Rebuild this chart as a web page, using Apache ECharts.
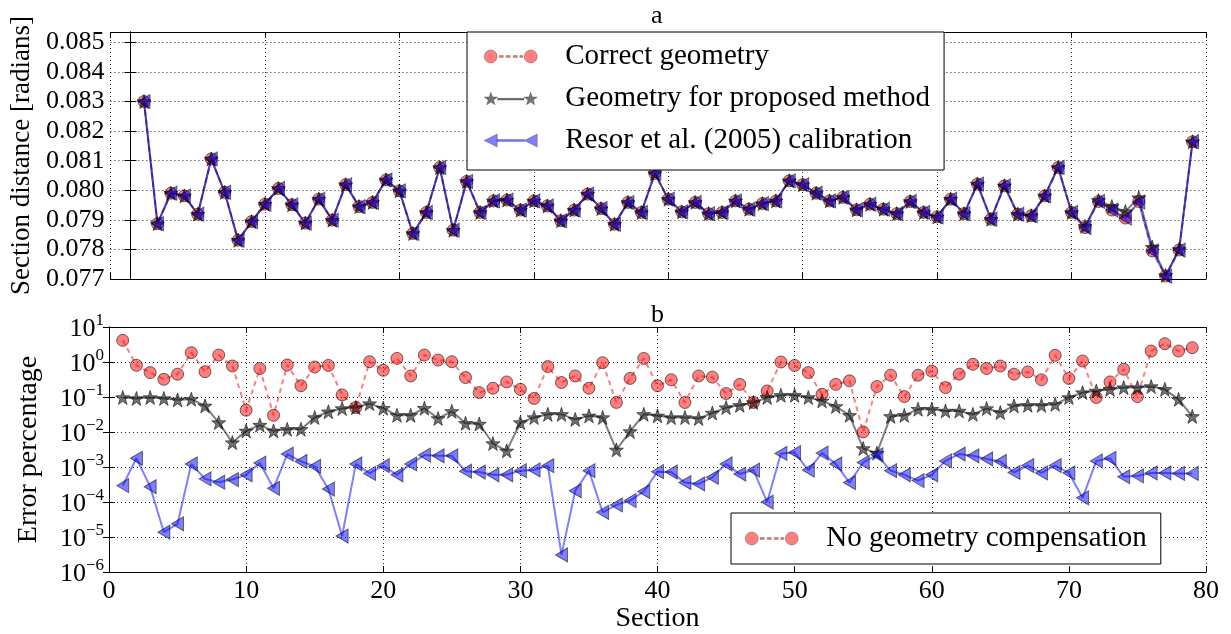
<!DOCTYPE html>
<html><head><meta charset="utf-8">
<script src="https://cdn.jsdelivr.net/npm/echarts@6/dist/echarts.min.js"></script>
<style>html,body{margin:0;padding:0;background:#fff}#c{width:1231px;height:634px}</style>
</head><body><div id="c"></div>
<script>
const sections = [1,2,3,4,5,6,7,8,9,10,11,12,13,14,15,16,17,18,19,20,21,22,23,24,25,26,27,28,29,30,31,32,33,34,35,36,37,38,39,40,41,42,43,44,45,46,47,48,49,50,51,52,53,54,55,56,57,58,59,60,61,62,63,64,65,66,67,68,69,70,71,72,73,74,75,76,77,78,79];

// Panel a: section distance [radians]
const correctGeometry = [0.0830,0.07887,0.07990,0.07981,0.07919,0.08106,0.07993,0.07831,0.07894,0.07953,
 0.08006,0.07951,0.07889,0.07970,0.07899,0.08019,0.07945,0.07959,0.08035,0.07998,
 0.07854,0.07925,0.08077,0.07865,0.08030,0.07925,0.07964,0.07967,0.07933,0.07964,
 0.07947,0.07897,0.07933,0.07987,0.07938,0.07885,0.07959,0.07925,0.08057,0.07970,
 0.07927,0.07959,0.07921,0.07925,0.07964,0.07936,0.07955,0.07964,0.08032,0.08019,
 0.07990,0.07964,0.07976,0.07934,0.07953,0.07936,0.07921,0.07962,0.07925,0.07910,
 0.07970,0.07921,0.08021,0.07902,0.08015,0.07919,0.07914,0.07981,0.08077,0.07925,
 0.07874,0.07962,0.07933,0.07906,0.07962,0.07795,0.07710,0.07798,0.08164];
const proposedGeometry = [0.0830,0.07887,0.07990,0.07981,0.07919,0.08106,0.07993,0.07831,0.07894,0.07953,
 0.08006,0.07951,0.07889,0.07970,0.07899,0.08019,0.07945,0.07959,0.08035,0.07998,
 0.07854,0.07925,0.08077,0.07865,0.08030,0.07925,0.07964,0.07967,0.07933,0.07964,
 0.07947,0.07897,0.07933,0.07987,0.07938,0.07885,0.07959,0.07925,0.08057,0.07970,
 0.07927,0.07959,0.07921,0.07925,0.07964,0.07936,0.07955,0.07964,0.08032,0.08019,
 0.07990,0.07964,0.07976,0.07934,0.07953,0.07936,0.07921,0.07962,0.07925,0.07910,
 0.07970,0.07921,0.08021,0.07902,0.08015,0.07919,0.07914,0.07981,0.08077,0.07925,
 0.07878,0.07966,0.07945,0.07928,0.07975,0.07808,0.07712,0.07800,0.08164];
const resorGeometry = [0.0830,0.07887,0.07990,0.07981,0.07919,0.08106,0.07993,0.07831,0.07894,0.07953,
 0.08006,0.07951,0.07889,0.07970,0.07899,0.08019,0.07945,0.07959,0.08035,0.07998,
 0.07854,0.07925,0.08077,0.07865,0.08030,0.07925,0.07964,0.07967,0.07933,0.07964,
 0.07947,0.07897,0.07933,0.07987,0.07938,0.07885,0.07959,0.07925,0.08057,0.07970,
 0.07927,0.07959,0.07921,0.07925,0.07964,0.07936,0.07955,0.07964,0.08032,0.08019,
 0.07990,0.07964,0.07976,0.07934,0.07953,0.07936,0.07921,0.07962,0.07925,0.07910,
 0.07970,0.07921,0.08021,0.07902,0.08015,0.07919,0.07914,0.07981,0.08077,0.07925,
 0.07874,0.07962,0.07933,0.07906,0.07960,0.07795,0.07710,0.07798,0.08164];

// Panel b: error percentage
const errNoComp = [4.15,0.805,0.50,0.32,0.45,1.85,0.53,1.58,0.77,0.042,
 0.65,0.030,0.82,0.21,0.72,0.80,0.115,0.050,1.02,0.58,
 1.27,0.40,1.58,1.14,1.02,0.36,0.134,0.178,0.27,0.166,
 0.091,0.74,0.26,0.40,0.178,0.96,0.070,0.34,1.27,0.21,
 0.31,0.070,0.40,0.37,0.126,0.23,0.070,0.149,1.0,0.80,
 0.50,0.12,0.23,0.29,0.0101,0.20,0.42,0.103,0.42,0.55,
 0.186,0.45,0.86,0.65,0.77,0.45,0.52,0.31,1.55,0.34,
 1.07,0.097,0.27,0.62,0.103,2.06,3.34,2.06,2.57];
const errProposed = [0.097,0.091,0.097,0.091,0.083,0.087,0.056,0.0187,0.0050,0.0108,
 0.0158,0.0108,0.012,0.012,0.026,0.038,0.047,0.050,0.065,0.048,
 0.030,0.030,0.048,0.0245,0.039,0.0178,0.017,0.0047,0.0029,0.0187,
 0.026,0.032,0.032,0.023,0.029,0.026,0.0031,0.0104,0.032,0.029,
 0.026,0.026,0.0245,0.035,0.050,0.058,0.070,0.097,0.112,0.112,
 0.097,0.078,0.054,0.030,0.0034,0.0025,0.028,0.030,0.045,0.045,
 0.040,0.040,0.032,0.047,0.036,0.056,0.058,0.058,0.062,0.097,
 0.134,0.149,0.166,0.186,0.186,0.20,0.166,0.086,0.028];
const errResor = [2.95e-4,1.78e-3,2.75e-4,1.38e-5,2.4e-5,1.23e-3,4.6e-4,3.7e-4,4.4e-4,6.0e-4,
 1.3e-3,2.47e-4,2.35e-3,1.45e-3,1.05e-3,2.35e-4,1.07e-5,1.23e-3,6.6e-4,1.09e-3,
 6.0e-4,1.23e-3,2.2e-3,2.1e-3,2.1e-3,7.6e-4,7.2e-4,6.0e-4,6.0e-4,7.9e-4,
 8.3e-4,1.09e-3,3.1e-6,2.1e-4,7.9e-4,5.1e-5,8.3e-5,1.1e-4,2.0e-4,7.4e-4,
 7.2e-4,3.6e-4,3.3e-4,5.1e-4,1.23e-3,6.3e-4,8.2e-4,1.0e-4,2.45e-3,2.6e-3,
 8.2e-4,2.5e-3,1.23e-3,3.6e-4,1.35e-3,2.24e-3,7.9e-4,6.0e-4,4.1e-4,6.0e-4,
 1.5e-3,2.35e-3,2.1e-3,1.7e-3,1.45e-3,7.0e-4,1.1e-3,6.8e-4,1.1e-3,6.8e-4,
 1.32e-4,1.5e-3,1.78e-3,5.3e-4,5.6e-4,6.8e-4,6.8e-4,6.6e-4,6.6e-4];

const seriesNames = ['Correct geometry','Geometry for proposed method','Resor et al. (2005) calibration'];
const bottomLegendName = 'No geometry compensation';

const FONT = 'Liberation Serif';
const pairs = arr => sections.map((s, i) => [s, arr[i]]);

function starPath(cx, cy, ro, ri) {
  let d = '';
  for (let k = 0; k < 10; k++) {
    const a = (-90 + k * 36) * Math.PI / 180;
    const r = k % 2 === 0 ? ro : ri;
    d += (k === 0 ? 'M' : 'L') + (cx + r * Math.cos(a)).toFixed(3) + ',' + (cy + r * Math.sin(a)).toFixed(3) + ' ';
  }
  return d + 'Z ';
}
const STAR = 'path://' + starPath(50, 50, 50, 20);
const LTRI = 'path://M0,50 L87,0 L87,100 Z';
const iconCircle = 'path://M0,6.5 A6.5,6.5 0 1 1 13,6.5 A6.5,6.5 0 1 1 0,6.5 Z M40,6.5 A6.5,6.5 0 1 1 53,6.5 A6.5,6.5 0 1 1 40,6.5 Z ' +
  'M15,5.6 L19,5.6 L19,7.4 L15,7.4 Z M22,5.6 L26,5.6 L26,7.4 L22,7.4 Z M29,5.6 L33,5.6 L33,7.4 L29,7.4 Z M35.5,5.6 L38.5,5.6 L38.5,7.4 L35.5,7.4 Z';
const iconStar = 'path://' + starPath(6.66, 7, 7, 2.8) + starPath(46.66, 7, 7, 2.8) + 'M13.3,6.2 L40,6.2 L40,7.9 L13.3,7.9 Z';
const iconTri = 'path://M0,6.5 L13,0 L13,13 Z M40,6.5 L53,0 L53,13 Z M13,5.6 L40,5.6 L40,7.4 L13,7.4 Z';

const RED = 'rgba(255,0,0,0.5)', GRAY = 'rgba(0,0,0,0.5)', BLUE = 'rgba(0,0,255,0.5)', EDGE = 'rgba(0,0,0,0.55)';

function mkSeries(name, data, kind, xi, yi) {
  const base = { name, type: 'line', data, xAxisIndex: xi, yAxisIndex: yi, animation: false, z: 3 };
  if (kind === 'red') return Object.assign(base, {
    symbol: 'circle', symbolSize: 12,
    itemStyle: { color: RED, borderColor: EDGE, borderWidth: 1 },
    lineStyle: { color: RED, width: 2, type: [5, 4] } });
  if (kind === 'gray') return Object.assign(base, {
    symbol: STAR, symbolSize: 14,
    itemStyle: { color: 'rgba(0,0,0,0.55)', borderColor: EDGE, borderWidth: 1 },
    lineStyle: { color: GRAY, width: 2 } });
  return Object.assign(base, {
    symbol: LTRI, symbolSize: [12, 14],
    itemStyle: { color: BLUE, borderColor: EDGE, borderWidth: 1 },
    lineStyle: { color: BLUE, width: 2 } });
}

const axisLine = { show: true, lineStyle: { color: '#000', width: 1 } };
const tick = { show: true, inside: true, length: 6, lineStyle: { color: '#000', width: 1 } };
const grid = { show: true, lineStyle: { color: '#222', width: 1, type: [1, 3] } };
const labelStyle = { fontFamily: FONT, fontSize: 26, color: '#000' };
const supFmt = v => {
  const e = Math.round(Math.log10(v));
  return '{b|10}{s|' + (e < 0 ? '\u2212' + (-e) : e) + '}';
};
const legendItemStyle = { borderWidth: 0.5, borderColor: 'rgba(0,0,0,0.5)' };

const option = {
  backgroundColor: '#fff',
  animation: false,
  title: [
    { text: 'a', left: 651, top: 3, padding: 0, textStyle: { fontFamily: FONT, fontSize: 26, fontWeight: 'normal', color: '#000' } },
    { text: 'b', left: 651, top: 302, padding: 0, textStyle: { fontFamily: FONT, fontSize: 26, fontWeight: 'normal', color: '#000' } }
  ],
  grid: [
    { left: 109, right: 25, top: 32, height: 247 },
    { left: 109, right: 25, top: 327, height: 247 }
  ],
  legend: [
    { data: seriesNames.map((n, i) => ({ name: n, icon: [iconCircle, iconStar, iconTri][i] })),
      orient: 'vertical', left: 467, top: 32, itemWidth: 53, itemHeight: 13, itemGap: 13,
      padding: [10, 14, 15, 17], backgroundColor: '#fff', borderColor: '#000', borderWidth: 1,
      itemStyle: legendItemStyle,
      selectedMode: false, textStyle: { fontFamily: FONT, fontSize: 29, color: '#000', padding: [0, 0, 0, 23] } },
    { data: [{ name: bottomLegendName, icon: iconCircle }],
      orient: 'vertical', left: 731, top: 513, itemWidth: 53, itemHeight: 13,
      padding: [11, 14, 11, 14], backgroundColor: '#fff', borderColor: '#000', borderWidth: 1,
      itemStyle: legendItemStyle,
      selectedMode: false, textStyle: { fontFamily: FONT, fontSize: 29, color: '#000', padding: [0, 0, 0, 23] } }
  ],
  xAxis: [
    { type: 'value', gridIndex: 0, min: -1.5, max: 80, splitNumber: 8, axisLine, axisTick: tick,
      axisLabel: { show: false }, splitLine: grid },
    { type: 'value', gridIndex: 0, position: 'top', min: -1.5, max: 80, splitNumber: 8, axisLine, axisTick: tick,
      axisLabel: { show: false }, splitLine: { show: false } },
    { type: 'value', gridIndex: 1, min: 0, max: 80, interval: 10, axisLine, axisTick: tick,
      axisLabel: Object.assign({ margin: 6 }, labelStyle), splitLine: grid,
      name: 'Section', nameLocation: 'middle', nameGap: 32,
      nameTextStyle: { fontFamily: FONT, fontSize: 28, color: '#000' } },
    { type: 'value', gridIndex: 1, position: 'top', min: 0, max: 80, interval: 10, axisLine, axisTick: tick,
      axisLabel: { show: false }, splitLine: { show: false } }
  ],
  yAxis: [
    { type: 'value', gridIndex: 0, min: 0.077, max: 0.08535, interval: 0.001, axisLine, axisTick: tick,
      axisLabel: Object.assign({ margin: 6, showMaxLabel: false,
        formatter: v => Math.abs(v * 1000 - Math.round(v * 1000)) < 1e-6 ? v.toFixed(3) : '' }, labelStyle),
      splitLine: grid,
      name: 'Section distance [radians]', nameLocation: 'middle', nameGap: 73,
      nameTextStyle: { fontFamily: FONT, fontSize: 27, color: '#000' } },
    { type: 'value', gridIndex: 0, position: 'right', min: 0.077, max: 0.08535, interval: 0.001, axisLine, axisTick: tick,
      axisLabel: { show: false }, splitLine: { show: false } },
    { type: 'log', logBase: 10, gridIndex: 1, min: 1e-6, max: 10, splitNumber: 7, axisLine, axisTick: tick,
      axisLabel: { margin: 5, formatter: supFmt, rich: {
        b: { fontFamily: FONT, fontSize: 26, color: '#000', lineHeight: 30, verticalAlign: 'bottom' },
        s: { fontFamily: FONT, fontSize: 17, color: '#000', lineHeight: 17, verticalAlign: 'top' } } },
      splitLine: grid,
      name: 'Error percentage', nameLocation: 'middle', nameGap: 66,
      nameTextStyle: { fontFamily: FONT, fontSize: 28, color: '#000' } },
    { type: 'log', logBase: 10, gridIndex: 1, position: 'right', min: 1e-6, max: 10, splitNumber: 7, axisLine, axisTick: tick,
      axisLabel: { show: false }, splitLine: { show: false } }
  ],
  series: [
    mkSeries(seriesNames[0], pairs(correctGeometry), 'red', 0, 0),
    mkSeries(seriesNames[1], pairs(proposedGeometry), 'gray', 0, 0),
    mkSeries(seriesNames[2], pairs(resorGeometry), 'blue', 0, 0),
    mkSeries(bottomLegendName, pairs(errNoComp), 'red', 2, 2),
    mkSeries(seriesNames[1], pairs(errProposed), 'gray', 2, 2),
    mkSeries(seriesNames[2], pairs(errResor), 'blue', 2, 2)
  ]
};
const chart = echarts.init(document.getElementById('c'), null, { renderer: 'canvas' });
chart.setOption(option);
</script></body></html>
